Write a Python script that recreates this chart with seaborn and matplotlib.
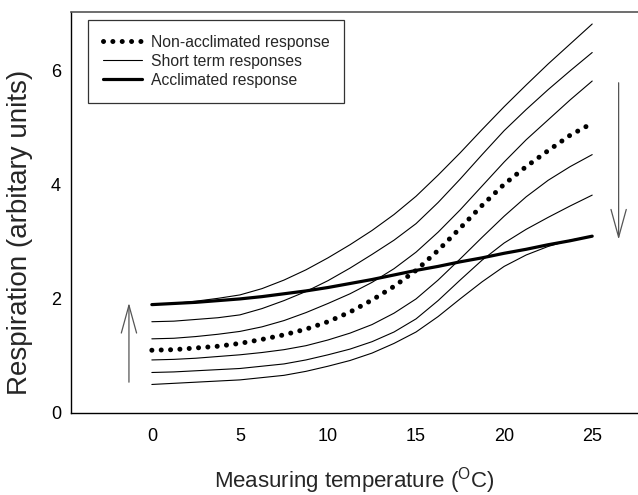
import matplotlib
matplotlib.use("Agg")
import matplotlib.pyplot as plt
import seaborn as sns
import pandas as pd
from matplotlib.lines import Line2D

# ---- data ----
temps = [0, 1.25, 2.5, 3.75, 5, 6.25, 7.5, 8.75, 10, 11.25, 12.5, 13.75,
         15, 16.25, 17.5, 18.75, 20, 21.25, 22.5, 23.75, 25]

non_acclimated = [1.10, 1.11, 1.14, 1.17, 1.22, 1.29, 1.37, 1.47, 1.60, 1.77, 1.98, 2.22,
                  2.50, 2.85, 3.24, 3.64, 4.01, 4.32, 4.60, 4.87, 5.08]
acclimated = [1.90, 1.92, 1.94, 1.97, 2.00, 2.04, 2.09, 2.14, 2.20, 2.27, 2.34, 2.42,
              2.50, 2.57, 2.65, 2.72, 2.80, 2.87, 2.95, 3.02, 3.10]

short_1 = [1.90, 1.92, 1.96, 2.01, 2.07, 2.18, 2.33, 2.51, 2.72, 2.95, 3.20, 3.48,
           3.80, 4.17, 4.56, 4.97, 5.37, 5.75, 6.12, 6.47, 6.82]
short_2 = [1.60, 1.61, 1.64, 1.67, 1.72, 1.83, 1.97, 2.13, 2.32, 2.54, 2.78, 3.03,
           3.32, 3.69, 4.10, 4.53, 4.95, 5.32, 5.67, 6.00, 6.32]
short_3 = [1.30, 1.31, 1.34, 1.38, 1.43, 1.51, 1.62, 1.76, 1.92, 2.09, 2.29, 2.53,
           2.82, 3.17, 3.56, 3.98, 4.40, 4.79, 5.14, 5.49, 5.82]
short_4 = [0.93, 0.94, 0.96, 0.99, 1.02, 1.06, 1.11, 1.18, 1.28, 1.40, 1.55, 1.75,
           2.00, 2.33, 2.70, 3.08, 3.45, 3.79, 4.08, 4.32, 4.53]
short_5 = [0.71, 0.72, 0.74, 0.76, 0.78, 0.82, 0.86, 0.93, 1.02, 1.12, 1.25, 1.42,
           1.65, 1.97, 2.33, 2.68, 2.98, 3.22, 3.43, 3.63, 3.82]
short_6 = [0.50, 0.52, 0.54, 0.56, 0.58, 0.62, 0.66, 0.73, 0.82, 0.92, 1.05, 1.22,
           1.42, 1.69, 2.00, 2.30, 2.57, 2.77, 2.92, 3.03, 3.10]
short_terms = [short_1, short_2, short_3, short_4, short_5, short_6]

x_ticks = [0, 5, 10, 15, 20, 25]
y_ticks = [0, 2, 4, 6]

legend_labels = ["Non-acclimated response", "Short term responses", "Acclimated response"]
x_label = "Measuring temperature ($^{\\mathregular{O}}$C)"
y_label = "Respiration (arbitary units)"

# ---- style ----
sns.set_style("white")
plt.rcParams["font.family"] = ["Liberation Sans", "DejaVu Sans"]
plt.rcParams["mathtext.default"] = "regular"

fig = plt.figure(figsize=(6.38, 4.95), dpi=100)
ax = fig.add_axes([0.111, 0.1657, 0.889, 0.810])

for vals in short_terms:
    df = pd.DataFrame({"t": temps, "r": vals})
    sns.lineplot(data=df, x="t", y="r", ax=ax, color="black", lw=0.8,
                 estimator=None, sort=False)

df = pd.DataFrame({"t": temps, "r": acclimated})
sns.lineplot(data=df, x="t", y="r", ax=ax, color="black", lw=2.3,
             estimator=None, sort=False)

df = pd.DataFrame({"t": temps, "r": non_acclimated})
sns.lineplot(data=df, x="t", y="r", ax=ax, color="black", lw=3.6,
             linestyle=(0, (0.01, 1.86)), dash_capstyle="round",
             estimator=None, sort=False)

# arrows
arrow_kw = dict(arrowstyle="->,head_length=2.0,head_width=0.55", color="#555555",
                lw=0.9, mutation_scale=10, shrinkA=0, shrinkB=0)
ax.annotate("", xy=(-1.3, 1.93), xytext=(-1.3, 0.54), arrowprops=arrow_kw)
ax.annotate("", xy=(26.5, 3.04), xytext=(26.5, 5.79), arrowprops=arrow_kw)

ax.set_xlim(-4.6, 27.6)
ax.set_ylim(0, 7.03)
ax.set_xticks(x_ticks)
ax.set_yticks(y_ticks)
ax.tick_params(direction="in", length=5, width=0.8, color="#333333",
               labelsize=13, colors="black")
ax.tick_params(axis="x", pad=11)
ax.tick_params(axis="y", pad=7)
ax.set_xlabel(x_label, fontsize=16, labelpad=14)
ax.set_ylabel(y_label, fontsize=20)
ax.yaxis.set_label_coords(-0.066, 0.45)

for s in ["left", "bottom"]:
    ax.spines[s].set_color("black")
    ax.spines[s].set_linewidth(1.0)
ax.spines["top"].set_color("#555555")
ax.spines["top"].set_linewidth(1.2)
ax.spines["right"].set_visible(False)

handles = [
    Line2D([], [], color="black", lw=3.6, linestyle=(0, (0.01, 1.86)), dash_capstyle="round"),
    Line2D([], [], color="black", lw=0.8),
    Line2D([], [], color="black", lw=2.3),
]
leg = ax.legend(handles, legend_labels, loc="upper left", bbox_to_anchor=(0.03, 0.98),
                borderaxespad=0, fontsize=11.3, frameon=True, fancybox=False,
                handlelength=2.5, handletextpad=0.55, labelspacing=0.25,
                borderpad=0.95)
leg.get_frame().set_edgecolor("black")
leg.get_frame().set_linewidth(0.9)

fig.savefig("out.png", dpi=100)
